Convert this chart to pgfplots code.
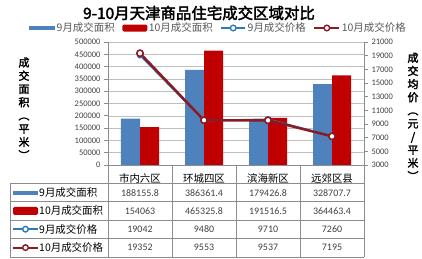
\documentclass[border=0pt]{standalone}
\usepackage{pgfplots}
\pgfplotsset{compat=1.18}
\usepackage{fontspec}
\setmainfont{Carlito}
\newfontfamily\cjk{Noto Sans CJK SC}
\newfontfamily\cjkb[FakeBold=2.5]{Noto Sans CJK SC}
\definecolor{barblue}{HTML}{4F81BD}
\definecolor{barred}{HTML}{C00000}
\definecolor{lineblue}{HTML}{2C7BB6}
\definecolor{linered}{HTML}{8C1A24}
\definecolor{gridc}{HTML}{BFBFBF}
\definecolor{axc}{HTML}{8C8C8C}
\definecolor{txt}{HTML}{404040}
\definecolor{legtxt}{HTML}{595959}
\begin{document}
\begin{tikzpicture}[x=1bp,y=1bp]
\path[use as bounding box] (0,0) rectangle (422,259);
% title
\node[font=\cjkb\fontsize{15.5}{18}\selectfont, inner sep=0] at (199,246) {9-10月天津商品住宅成交区域对比};
% y labels
\node[font=\cjkb\fontsize{11}{13.3}\selectfont, align=center, inner sep=0] at (24,150.6) {成\\交\\面\\积\\︵\\平\\米\\︶};
\node[font=\cjkb\fontsize{11}{13.2}\selectfont, align=center, inner sep=0] at (413,142.5) {成\\交\\均\\价\\︵\\元\\/\\平\\米\\︶};
\begin{axis}[
  at={(108bp,94bp)}, anchor=south west,
  width=256bp, height=123bp, scale only axis,
  xmin=-0.5, xmax=3.5, ymin=0, ymax=500000,
  ytick={0,50000,...,500000},
  scaled y ticks=false,
  /pgf/number format/assume math mode=true,
  yticklabel style={font=\fontsize{8.5}{10}\selectfont, text=txt, /pgf/number format/fixed, /pgf/number format/1000 sep={}},
  ymajorgrids, grid style={gridc, line width=0.5bp},
  axis y line*=left, axis x line*=bottom,
  axis line style={axc, line width=0.6bp}, tick style={axc, line width=0.6bp},
  tick align=outside, major tick length=4bp,
  xtick={0,1,2,3}, xticklabels={市内六区,环城四区,滨海新区,远郊区县},
  x tick style={draw=none},
  xticklabel style={font=\cjk\fontsize{10.5}{12}\selectfont, text=black, anchor=center, yshift=-9.5bp},
  ybar=0pt, bar width=19bp,
  legend style={at={(-0.3086,1.1138)}, anchor=west, draw=none, fill=none, inner sep=0pt,
    font=\cjk\fontsize{10.5}{12}\selectfont, text=legtxt,
    /tikz/every even column/.append style={column sep=6bp},
    nodes={inner xsep=1.5bp, inner ysep=0pt}},
  legend columns=4,
]
\addplot[fill=barblue, draw=none,
  legend image code/.code={\fill[barblue] (0bp,-2bp) rectangle (26bp,2bp);}]
  coordinates {(0,188155.8) (1,386361.4) (2,179426.8) (3,328707.7)};
\addplot[fill=barred, draw=none,
  legend image code/.code={\fill[barred, rounded corners=1.5bp] (0bp,-3.5bp) rectangle (25bp,3.5bp);}]
  coordinates {(0,154063) (1,465325.8) (2,191516.5) (3,364463.4)};
\addlegendimage{legend image code/.code={\draw[lineblue, line width=2bp] (0bp,0bp) -- (24bp,0bp); \draw[lineblue, line width=1.4bp, fill=white] (12bp,0bp) circle (2.8bp);}}
\addlegendimage{legend image code/.code={\draw[linered, line width=2bp] (0bp,0bp) -- (25bp,0bp); \draw[linered, line width=1.4bp, fill=white] (12.5bp,0bp) circle (2.8bp);}}
\legend{9月成交面积,10月成交面积,9月成交价格,10月成交价格}
\end{axis}
\begin{axis}[
  at={(108bp,94bp)}, anchor=south west,
  width=256bp, height=123bp, scale only axis,
  xmin=-0.5, xmax=3.5, ymin=3000, ymax=21000,
  ytick={3000,5000,...,21000},
  scaled y ticks=false,
  /pgf/number format/assume math mode=true,
  yticklabel style={font=\fontsize{8.5}{10}\selectfont, text=txt, /pgf/number format/fixed, /pgf/number format/1000 sep={}},
  axis y line*=right, axis x line=none,
  axis line style={axc, line width=0.6bp}, tick style={axc, line width=0.6bp},
  tick align=outside, major tick length=4bp,
]
\addplot[lineblue, line width=1.5bp, mark=*, mark size=2.5bp,
  mark options={fill=white, draw=lineblue, line width=1.2bp}]
  coordinates {(0,19042) (1,9480) (2,9710) (3,7260)};
\addplot[linered, line width=2.5bp, mark=*, mark size=3.2bp,
  mark options={fill=white, draw=linered, line width=1.6bp}]
  coordinates {(0,19352) (1,9553) (2,9537) (3,7195)};
\end{axis}
% data table
\begin{scope}[draw=axc, line width=0.6bp]
\foreach \x in {172,236,300,364} \draw (\x,94) -- (\x,2.2);
\draw (108,94) -- (108,2.2);
\draw (10,75.5) -- (10,2.2);
\foreach \y in {75.5,57.2,39,20.6,2.2} \draw (10,\y) -- (364,\y);
\end{scope}
\begin{scope}[font=\fontsize{10}{12}\selectfont, text=txt]
\node at (140,66.35) {188155.8}; \node at (204,66.35) {386361.4}; \node at (268,66.35) {179426.8}; \node at (332,66.35) {328707.7};
\node at (140,48.1) {154063}; \node at (204,48.1) {465325.8}; \node at (268,48.1) {191516.5}; \node at (332,48.1) {364463.4};
\node at (140,29.8) {19042}; \node at (204,29.8) {9480}; \node at (268,29.8) {9710}; \node at (332,29.8) {7260};
\node at (140,11.4) {19352}; \node at (204,11.4) {9553}; \node at (268,11.4) {9537}; \node at (332,11.4) {7195};
\end{scope}
% row keys
\fill[barblue] (13,64.35) rectangle (38,68.35);
\fill[barred, rounded corners=1.5bp] (13,44.1) rectangle (38,52.1);
\draw[lineblue, line width=2bp] (13,29.8) -- (38,29.8);
\draw[lineblue, line width=1.4bp, fill=white] (25.5,29.8) circle (2.8);
\draw[linered, line width=2bp] (13,11.4) -- (38,11.4);
\draw[linered, line width=1.4bp, fill=white] (25.5,11.4) circle (2.8);
\begin{scope}[font=\cjk\fontsize{10.5}{12}\selectfont, text=black]
\node[anchor=west, inner sep=0] at (39,66.35) {9月成交面积};
\node[anchor=west, inner sep=0] at (39,48.1) {10月成交面积};
\node[anchor=west, inner sep=0] at (39,29.8) {9月成交价格};
\node[anchor=west, inner sep=0] at (39,11.4) {10月成交价格};
\end{scope}
\end{tikzpicture}
\end{document}
